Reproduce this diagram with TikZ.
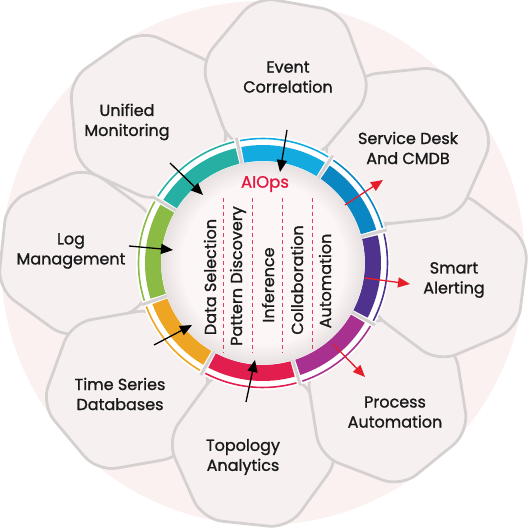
\documentclass[tikz,border=0pt]{standalone}
\usepackage{fontspec}
\setmainfont{Poppins}[FakeBold=1.2]
\usetikzlibrary{arrows.meta, calc}

\definecolor{petalfill}{HTML}{F7F0F0}
\definecolor{petaledge}{HTML}{D6D1D1}
\definecolor{backpink}{HTML}{FBF1F1}
\definecolor{diskpink}{HTML}{FCF6F6}
\definecolor{diskedge}{HTML}{E6E0E0}
\definecolor{aired}{HTML}{E3193F}
\definecolor{arrowred}{HTML}{E61E2A}
\definecolor{ringteal}{HTML}{26B0A4}
\definecolor{ringsky}{HTML}{13AADF}
\definecolor{ringblue}{HTML}{0A86C2}
\definecolor{ringpurple}{HTML}{4F328D}
\definecolor{ringmagenta}{HTML}{A8308E}
\definecolor{ringred}{HTML}{E21E4E}
\definecolor{ringorange}{HTML}{EEA523}
\definecolor{ringgreen}{HTML}{8BBA45}

\pgfdeclareradialshading{diskglow}{\pgfpoint{0bp}{0bp}}{color(0bp)=(diskpink); color(20bp)=(diskpink); color(25bp)=(diskedge); color(50bp)=(diskedge)}

\tikzset{
  petal/.style={fill=petalfill, draw=petaledge, line width=2.8pt, rounded corners=20pt},
  petaltext/.style={font=\fontsize{16}{20}\selectfont, align=center, text=black!90},
  stagetext/.style={font=\fontsize{16}{18}\selectfont, rotate=90, text=black!90},
  inarrow/.style={-{Triangle[length=12pt,width=10pt]}, line width=1.3pt},
  outarrow/.style={inarrow, draw=arrowred, fill=arrowred},
  divider/.style={draw=aired!85, dash pattern=on 4pt off 3pt, line width=0.7pt},
}

\begin{document}
\begin{tikzpicture}[x=1pt,y=1pt]
\useasboundingbox (0,0) rectangle (530,530);
\coordinate (C) at (263,267);

% pale backdrop
\fill[backpink] (C) circle (262);

% petals, bottom one first
\foreach \a in {174,125,-140,-96,-51,-7,36,80}{
  \begin{scope}[shift={($(C)+(\a+3:186)$)}, rotate=\a-90]
    \filldraw[petal] (0:87) -- (60:87) -- (120:87) -- (180:87) -- (240:87) -- (300:87) -- cycle;
  \end{scope}
}

% ring
\fill[white] (C) circle (127);
\foreach \g in {149,102,57,15,-29,-73,-119,-161}
  \draw[petaledge, line width=3pt] ($(C)+(\g:100)$) -- ($(C)+(\g:128)$);
\foreach \s/\e/\c in {102/149/ringteal, 57/102/ringsky, 15/57/ringblue, -29/15/ringpurple,
                      -73/-29/ringmagenta, -119/-73/ringred, -161/-119/ringorange, 149/199/ringgreen}{
  \fill[\c] ($(C)+(\s+1.4:118)$) arc[start angle=\s+1.4, end angle=\e-1.4, radius=118]
    -- ($(C)+(\e-1.4:102)$) arc[start angle=\e-1.4, end angle=\s+1.4, radius=102] -- cycle;
  \draw[\c, line width=1.6pt] ($(C)+(\s+1.4:124.5)$) arc[start angle=\s+1.4, end angle=\e-1.4, radius=124.5];
}
\shade[shading=diskglow] (C) circle (101.5);

% centre
\node[font=\fontsize{16.5}{18}\selectfont, text=aired] (aiops) at (265,346) {AIOps};
\foreach \x in {223,252,282,312}
  \draw[divider] (\x,332) -- (\x,177);
\node[stagetext] (dsel) at (210,253) {Data Selection};
\node[stagetext] (pdis) at (238,254) {Pattern Discovery};
\node[stagetext] (infer) at (268,245) {Inference};
\node[stagetext] (collab) at (297,250) {Collaboration};
\node[stagetext] (auto) at (325,249) {Automation};

% petal labels
\node[petaltext] (event) at (288,453) {Event\\Correlation};
\node[petaltext] (desk) at (408,382) {Service Desk\\And CMDB};
\node[petaltext] (alert) at (454,250) {Smart\\Alerting};
\node[petaltext] (proc) at (395,118) {Process\\Automation};
\node[petaltext] (topo) at (243,73) {Topology\\Analytics};
\node[petaltext] (tsdb) at (120,136) {Time Series\\Databases};
\node[petaltext] (logm) at (71,279) {Log\\Management};
\node[petaltext] (unif) at (127,408) {Unified\\Monitoring};

% arrows
\coordinate (event-a) at (287,400); \coordinate (event-b) at (280,358);
\coordinate (unif-a) at (170,367);  \coordinate (unif-b) at (203,335);
\coordinate (logm-a) at (129,284);  \coordinate (logm-b) at (173,280);
\coordinate (tsdb-a) at (154,185);  \coordinate (tsdb-b) at (192,205);
\coordinate (topo-a) at (246,128);  \coordinate (topo-b) at (255,170);
\coordinate (desk-a) at (345,325);  \coordinate (desk-b) at (383,350);
\coordinate (alert-a) at (365,252); \coordinate (alert-b) at (410,246);
\coordinate (proc-a) at (333,186);  \coordinate (proc-b) at (365,153);

\draw[inarrow] (event-a) -- (event-b);
\draw[inarrow] (unif-a) -- (unif-b);
\draw[inarrow] (logm-a) -- (logm-b);
\draw[inarrow] (tsdb-a) -- (tsdb-b);
\draw[inarrow] (topo-a) -- (topo-b);
\draw[outarrow] (desk-a) -- (desk-b);
\draw[outarrow] (alert-a) -- (alert-b);
\draw[outarrow] (proc-a) -- (proc-b);
\end{tikzpicture}
\end{document}
